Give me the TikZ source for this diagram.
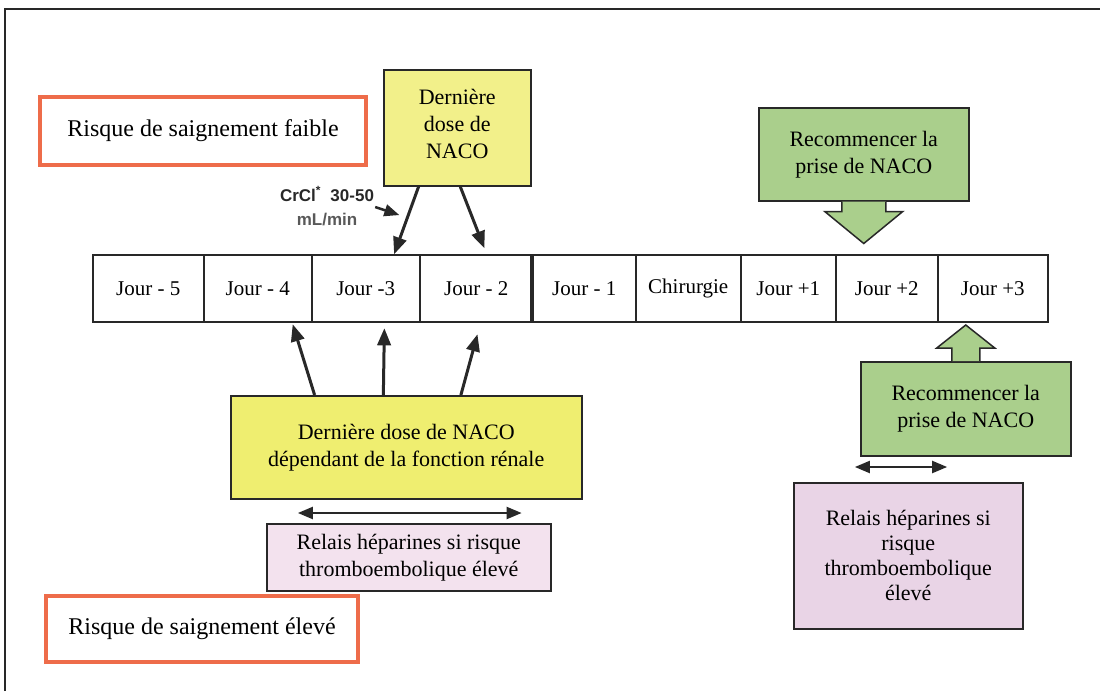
\documentclass[tikz,border=0pt]{standalone}
\usepackage{fontspec}
\setmainfont{Liberation Serif}
\newfontfamily\etiqsans{Liberation Sans}
\usepackage{tikz}
\usetikzlibrary{arrows}
\usetikzlibrary{calc}
\definecolor{orangebord}{RGB}{238,108,74}
\definecolor{jaunepale}{RGB}{242,240,138}
\definecolor{jaune}{RGB}{239,238,112}
\definecolor{vert}{RGB}{170,207,140}
\definecolor{rose}{RGB}{243,226,238}
\definecolor{roseb}{RGB}{233,212,230}
\definecolor{trait}{RGB}{40,40,40}
\tikzset{
  cell/.style={draw=trait,line width=1.5pt,minimum height=67pt,inner sep=0pt,anchor=north west,font=\fontsize{21}{26}\selectfont},
  risque/.style={draw=orangebord,line width=4pt,inner sep=0pt,anchor=north west,font=\fontsize{24}{28}\selectfont},
  boite/.style={draw=trait,line width=1.5pt,inner sep=0pt,anchor=north west,align=center,font=\fontsize{22}{27}\selectfont},
  fleche/.style={->,line width=3pt,color=trait},
}

\begin{document}
\begin{tikzpicture}[x=1pt,y=-1pt,line join=miter,>=triangle 45]
        \useasboundingbox (0,0) rectangle (1100,691);
        \draw[line width=2pt,color=trait] (5,691) -- (5,9) -- (1100,9);
        % ligne des jours
        \foreach \xa/\xb/\lab/\nom in {92/203/Jour - 5/jm5,203/311/Jour - 4/jm4,311/419/Jour -3/jm3,419/532/Jour - 2/jm2,532/635/Jour - 1/jm1,635/740/Chirurgie/chir,740/835/Jour +1/jp1,835/937/Jour +2/jp2,937/1047/Jour +3/jp3}
          \node[cell,minimum width={(\xb-\xa)*1pt}] (\nom) at (\xa,254) {\lab};
        \draw[line width=3.5pt,color=trait] (jm1.north west) -- (jm1.south west);
        % risques
        \node[risque,minimum width=326pt,minimum height=68pt] (faible) at (38,95) {Risque de saignement faible};
        \node[risque,minimum width=312pt,minimum height=66pt] (eleve) at (44,594) {Risque de saignement élevé};
        % boites
        \node[boite,fill=jaunepale,minimum width=147pt,minimum height=116pt,text depth=8pt] (dose) at (383,69) {Dernière\\dose de\\NACO};
        \node[boite,fill=jaune,minimum width=351pt,minimum height=103pt] (doser) at (230,395) {Dernière dose de NACO\\dépendant de la fonction rénale};
        \node[boite,fill=rose,minimum width=284pt,minimum height=67pt] (relais) at (266,523) {Relais héparines si risque\\thromboembolique élevé};
        \node[boite,fill=vert,minimum width=210pt,minimum height=93pt] (reprise) at (758,107) {Recommencer la\\prise de NACO};
        \node[boite,fill=vert,minimum width=210pt,minimum height=94pt] (reprise2) at (860,361) {Recommencer la\\prise de NACO};
        \node[boite,fill=roseb,minimum width=229pt,minimum height=146pt,font=\fontsize{22}{25}\selectfont] (relais2) at (793,482) {Relais héparines si\\risque\\thromboembolique\\élevé};
        \node[inner sep=0pt,align=center,color=trait,font=\etiqsans\bfseries\fontsize{17}{24}\selectfont] (crcl) at (327,206) {CrCl\textsuperscript{*}\ \ 30-50\\\textcolor{black!65}{mL/min}};
        % fleches
        \draw[fleche] ($(dose.south west)!0.24!(dose.south east)$) -- ($(jm3.north west)!0.76!(jm3.north east)$);
        \draw[fleche] ($(dose.south west)!0.52!(dose.south east)$) -- ($(jm2.north west)!0.57!(jm2.north east)+(0,-6)$);
        \draw[fleche,line width=2.5pt] ($(crcl.east)+(1,1)$) -- ++(24,8);
        \draw[fleche] ($(doser.north west)!0.24!(doser.north east)$) -- ($(jm4.south west)!0.82!(jm4.south east)+(0,2)$);
        \draw[fleche] ($(doser.north west)!0.435!(doser.north east)$) -- ($(jm3.south west)!0.67!(jm3.south east)+(0,6)$);
        \draw[fleche] ($(doser.north west)!0.655!(doser.north east)$) -- ($(jm2.south west)!0.51!(jm2.south east)+(0,12)$);
        \draw[<->,line width=2.5pt,color=trait] ($(relais.north west)+(32,-10)$) -- ($(relais.north east)+(-30,-10)$);
        \draw[<->,line width=2.5pt,color=trait] ($(relais2.north west)+(62,-15)$) -- ($(relais2.north west)+(154,-15)$);
        % grosses fleches
        \draw[line width=1.5pt,color=trait,fill=vert] ($(reprise.south)+(-22,0)$) -- ($(reprise.south)+(-22,10)$) -- ($(reprise.south)+(-39,10)$) -- ($(reprise.south)+(0,42)$) -- ($(reprise.south)+(39,10)$) -- ($(reprise.south)+(22,10)$) -- ($(reprise.south)+(22,0)$);
        \draw[line width=1.5pt,color=trait,fill=vert] ($(reprise2.north)+(-14,0)$) -- ($(reprise2.north)+(-14,-13)$) -- ($(reprise2.north)+(-29,-13)$) -- ($(reprise2.north)+(0,-36)$) -- ($(reprise2.north)+(29,-13)$) -- ($(reprise2.north)+(14,-13)$) -- ($(reprise2.north)+(14,0)$);
      \end{tikzpicture}
\end{document}
